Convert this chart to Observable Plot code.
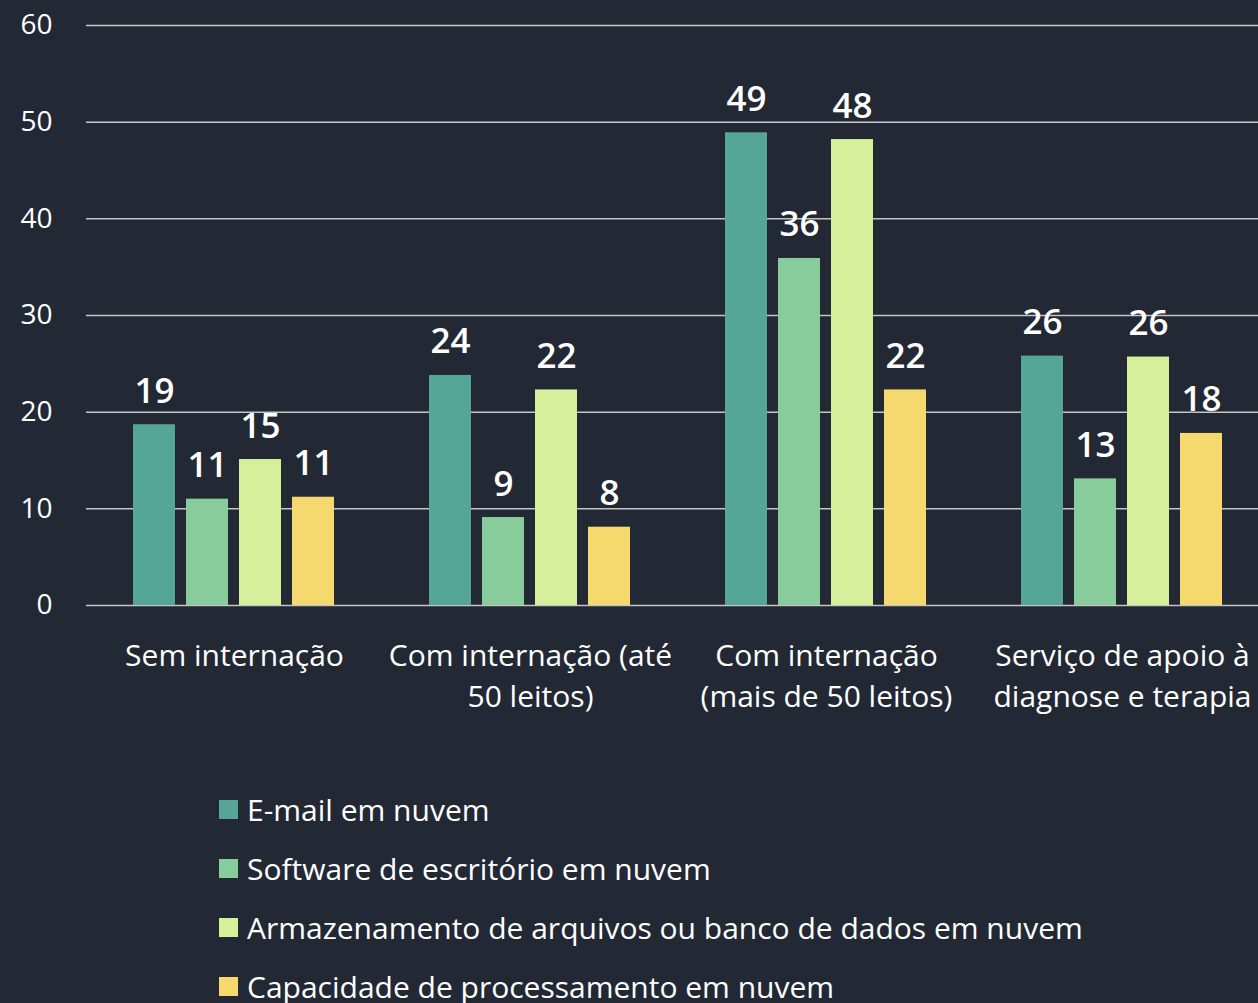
<!DOCTYPE html>
<html>
<head>
<meta charset="utf-8">
<script src="https://cdn.jsdelivr.net/npm/d3@7"></script>
<script src="https://cdn.jsdelivr.net/npm/@observablehq/plot@0.6"></script>
<style>
  html, body { margin: 0; padding: 0; background: #232934; }
  body { width: 1258px; height: 1003px; overflow: hidden; font-family: "Open Sans", sans-serif; color: #fff; }
  #chart svg { display: block; }
  #legend { margin-left: 219px; margin-top: 40px; }
  .item { display: flex; align-items: center; height: 59px; font-size: 30px; color: #fff; white-space: nowrap; }
  .sw { width: 19px; height: 19px; margin-right: 9px; flex: none; }
</style>
</head>
<body>
<div id="chart"></div>
<div id="legend"></div>
<script>
const categories = ["Sem internação", "Com internação (até 50 leitos)", "Com internação (mais de 50 leitos)", "Serviço de apoio à diagnose e terapia"];
const categoryLabels = ["Sem internação", "Com internação (até\n50 leitos)", "Com internação\n(mais de 50 leitos)", "Serviço de apoio à\ndiagnose e terapia"];
const series = ["E-mail em nuvem", "Software de escritório em nuvem", "Armazenamento de arquivos ou banco de dados em nuvem", "Capacidade de processamento em nuvem"];
const seriesColors = ["#56a695", "#88cc9b", "#d5ef9b", "#f5d86e"];
const email = [18.7, 23.8, 48.9, 25.8];
const software = [11.0, 9.1, 35.9, 13.1];
const storage = [15.1, 22.3, 48.2, 25.7];
const processing = [11.2, 8.1, 22.3, 17.8];
const yTicks = [0, 10, 20, 30, 40, 50, 60];

const valuesBySeries = [email, software, storage, processing];
const data = [];
categories.forEach((c, i) => {
  series.forEach((s, j) => {
    data.push({category: c, series: s, value: valuesBySeries[j][i]});
  });
});
const labelOf = new Map(categories.map((c, i) => [c, categoryLabels[i]]));

const chart = Plot.plot({
  width: 1258,
  height: 740,
  marginTop: 25,
  marginBottom: 135,
  marginLeft: 86,
  marginRight: -12,
  style: {background: "transparent", color: "#fff", fontFamily: "Open Sans, sans-serif"},
  fx: {domain: categories, paddingInner: 0, paddingOuter: 0, axis: null},
  x: {domain: series, paddingInner: 0.2, paddingOuter: 0.855, axis: null},
  y: {domain: [0, 60], axis: null},
  color: {domain: series, range: seriesColors},
  marks: [
    Plot.ruleY(yTicks, {stroke: "#c4c4c4", strokeWidth: 1.5}),
    Plot.barY(data, {fx: "category", x: "series", y: "value", fill: "series"}),
    Plot.text(data, {fx: "category", x: "series", y: "value", text: d => String(Math.round(d.value)), dy: -22, lineAnchor: "bottom", fill: "#fff", fontWeight: 600, fontSize: 35}),
    Plot.axisY({ticks: yTicks, tickSize: 0, tickPadding: 34, fontSize: 28, fill: "#fff", label: null}),
    Plot.axisFx({anchor: "bottom", tickSize: 0, tickPadding: 31, fontSize: 30, lineHeight: 1.37, fill: "#fff", tickFormat: c => labelOf.get(c), label: null})
  ]
});
document.getElementById("chart").append(chart);

const legend = document.getElementById("legend");
series.forEach((s, i) => {
  const item = document.createElement("div");
  item.className = "item";
  const sw = document.createElement("span");
  sw.className = "sw";
  sw.style.background = seriesColors[i];
  item.append(sw, document.createTextNode(s));
  legend.append(item);
});
</script>
</body>
</html>
